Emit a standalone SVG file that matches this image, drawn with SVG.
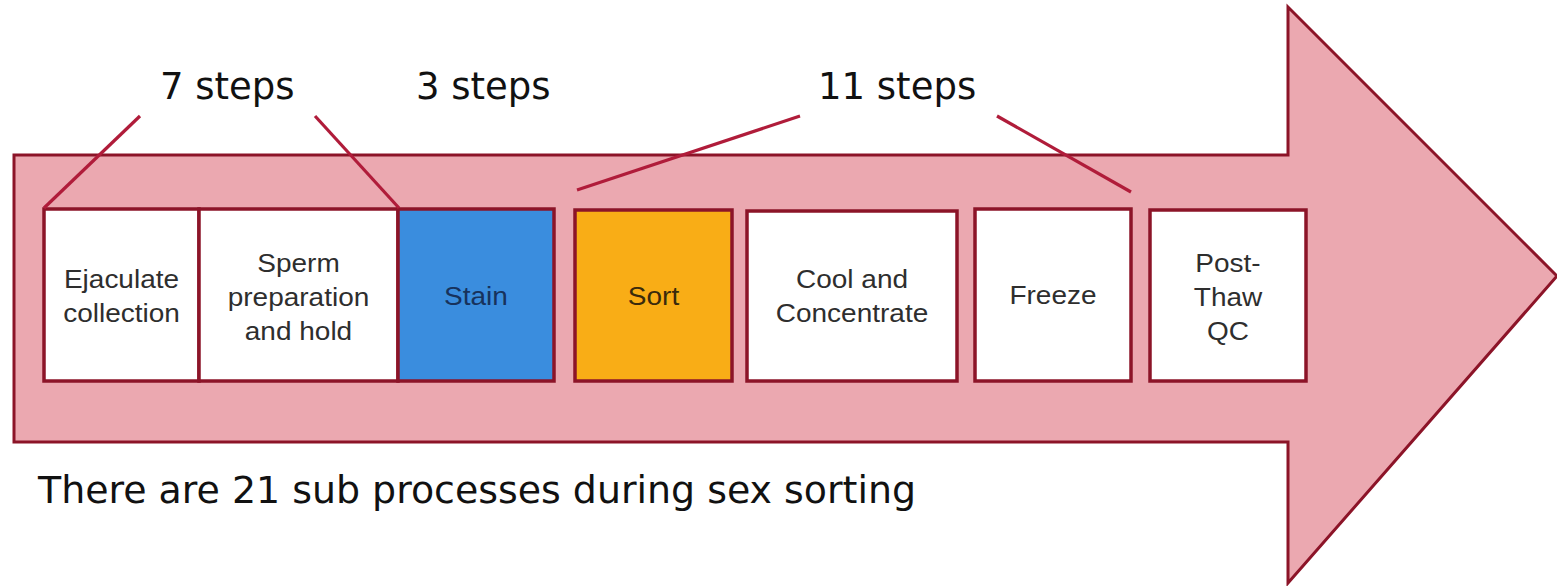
<svg xmlns="http://www.w3.org/2000/svg" width="1557" height="586" viewBox="0 0 1557 586">
  <style>
    .arrow { fill: #EBA8B0; stroke: #8C1428; stroke-width: 3; stroke-linejoin: miter; }
    .box { stroke: #8C1428; stroke-width: 3.5; }
    .plain { fill: #FFFFFF; }
    .stain { fill: #3A8DDE; }
    .sort { fill: #F9AD16; }
    .lbl { font-family: "Liberation Sans", Arial, sans-serif; font-size: 25px; fill: #2E2E2E; text-anchor: middle; }
    .big { font-family: "DejaVu Sans", Verdana, sans-serif; font-size: 37px; fill: #111111; }
    .link { stroke: #B01C3A; stroke-width: 3.2; fill: none; }
  </style>

  <!-- big process arrow -->
  <g id="process-arrow">
    <polygon class="arrow" points="14,155 1288,155 1288,7 1557,276 1288,583 1288,442 14,442"/>
  </g>

  <!-- process steps -->
  <g id="ejaculate-collection">
    <rect class="box plain" x="44" y="209" width="155" height="172"/>
    <text class="lbl" transform="translate(121.5 0) scale(1.12 1)"><tspan x="0" y="288">Ejaculate</tspan><tspan x="0" y="322">collection</tspan></text>
  </g>
  <g id="sperm-preparation">
    <rect class="box plain" x="199" y="209" width="199" height="172"/>
    <text class="lbl" transform="translate(298.5 0) scale(1.12 1)"><tspan x="0" y="272">Sperm</tspan><tspan x="0" y="306">preparation</tspan><tspan x="0" y="340">and hold</tspan></text>
  </g>
  <g id="stain">
    <rect class="box stain" x="398" y="209" width="156" height="172"/>
    <text class="lbl" style="fill:#17325C" transform="translate(476 0) scale(1.12 1)"><tspan x="0" y="305">Stain</tspan></text>
  </g>
  <g id="sort">
    <rect class="box sort" x="575" y="210" width="157" height="171"/>
    <text class="lbl" style="fill:#3A2A0C" transform="translate(653.5 0) scale(1.12 1)"><tspan x="0" y="305">Sort</tspan></text>
  </g>
  <g id="cool-concentrate">
    <rect class="box plain" x="747" y="211" width="210" height="170"/>
    <text class="lbl" transform="translate(852 0) scale(1.12 1)"><tspan x="0" y="288">Cool and</tspan><tspan x="0" y="322">Concentrate</tspan></text>
  </g>
  <g id="freeze">
    <rect class="box plain" x="975" y="209" width="156" height="172"/>
    <text class="lbl" transform="translate(1053 0) scale(1.12 1)"><tspan x="0" y="304">Freeze</tspan></text>
  </g>
  <g id="post-thaw-qc">
    <rect class="box plain" x="1150" y="210" width="156" height="171"/>
    <text class="lbl" transform="translate(1228 0) scale(1.12 1)"><tspan x="0" y="272">Post-</tspan><tspan x="0" y="306">Thaw</tspan><tspan x="0" y="340">QC</tspan></text>
  </g>

  <!-- bracket lines for step counts -->
  <g id="connectors">
    <line class="link" x1="44" y1="208" x2="140" y2="116"/>
    <line class="link" x1="399" y1="208" x2="315" y2="116"/>
    <line class="link" x1="577" y1="190" x2="800" y2="116"/>
    <line class="link" x1="1131" y1="192" x2="997" y2="116"/>
  </g>

  <!-- step count labels -->
  <g id="labels">
    <text class="big" x="160" y="99">7 steps</text>
    <text class="big" x="416" y="99">3 steps</text>
    <text class="big" x="818" y="99">11 steps</text>
    <text class="big" x="38" y="503" textLength="878" lengthAdjust="spacingAndGlyphs">There are 21 sub processes during sex sorting</text>
  </g>
</svg>
